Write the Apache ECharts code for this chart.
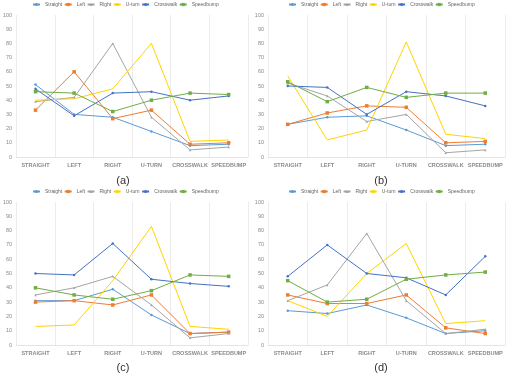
<!DOCTYPE html>
<html>
<head>
<meta charset="utf-8">
<script src="https://cdn.jsdelivr.net/npm/echarts@6/dist/echarts.min.js"></script>
<style>
  html, body { margin: 0; padding: 0; background: #fff; }
  #chart { width: 509px; height: 374px; }
</style>
</head>
<body>
<div id="chart"></div>
<script>
// x categories and series names (same in all four panels)
const categories = ['STRAIGHT', 'LEFT', 'RIGHT', 'U-TURN', 'CROSSWALK', 'SPEEDBUMP']
const seriesNames = ['Straight', 'Left', 'Right', 'U-turn', 'Crosswalk', 'Speedbump']
const yTicks = [0, 10, 20, 30, 40, 50, 60, 70, 80, 90, 100]
const captions = ['(a)', '(b)', '(c)', '(d)']

// values per panel, rows follow seriesNames order
const panelA = [
  [51, 30, 28, 18, 8, 9],
  [33, 60, 27, 33, 9, 10],
  [39, 42, 80, 28, 5, 7],
  [40, 41, 48, 80, 11, 12],
  [48, 29, 45, 46, 40, 43],
  [46, 45, 32, 40, 45, 44],
]
const panelB = [
  [23, 28, 29, 19, 8, 9],
  [23, 31, 36, 35, 10, 11],
  [52, 43, 25, 30, 3, 5],
  [57, 12, 19, 81, 16, 13],
  [50, 49, 30, 46, 43, 36],
  [53, 39, 49, 42, 45, 45],
]
const panelC = [
  [31, 31, 39, 21, 8, 9],
  [30, 31, 28, 35, 8, 9],
  [35, 40, 48, 28, 5, 8],
  [13, 14, 45, 83, 13, 11],
  [50, 49, 71, 46, 43, 41],
  [40, 35, 32, 38, 49, 48],
]
const panelD = [
  [24, 22, 28, 19, 8, 10],
  [35, 29, 29, 35, 12, 8],
  [31, 42, 78, 31, 8, 11],
  [31, 20, 50, 71, 15, 17],
  [48, 70, 50, 47, 35, 62],
  [45, 30, 32, 46, 49, 51],
]
const panels = [panelA, panelB, panelC, panelD]

const colors = ['#5B9BD5', '#ED7D31', '#A5A5A5', '#FFD400', '#4472C4', '#70AD47']
const symbols = ['circle', 'rect', 'triangle', 'none', 'circle', 'rect']
const font = 'Liberation Sans'

// panel boxes: left, top, width, height of the plot area
const boxes = [
  { left: 10, top: 15, width: 238, height: 142 },
  { left: 268, top: 15, width: 237, height: 142 },
  { left: 10, top: 202, width: 238, height: 143 },
  { left: 268, top: 202, width: 237, height: 143 },
]

const grid = boxes.map((b) => ({ left: b.left, top: b.top, width: b.width, height: b.height }))

const xAxis = boxes.map((b, i) => ({
  type: 'category',
  gridIndex: i,
  data: categories,
  axisTick: { show: false },
  axisLine: { lineStyle: { color: '#e4e4e4', width: 1 } },
  splitLine: { show: true, lineStyle: { color: '#ececec', width: 1 } },
  axisLabel: {
    color: '#8a8a8a',
    fontSize: 5.5,
    fontWeight: 'bold',
    fontFamily: font,
    margin: 5,
    interval: 0,
  },
}))

const yAxis = boxes.map((b, i) => ({
  type: 'value',
  gridIndex: i,
  min: yTicks[0],
  max: yTicks[yTicks.length - 1],
  interval: 10,
  axisLine: { show: false },
  axisTick: { show: false },
  splitLine: { show: false },
  axisLabel: { color: '#8a8a8a', fontSize: 5.5, fontFamily: font, margin: 4 },
}))

const legend = boxes.map((b, i) => ({
  data: seriesNames,
  left: i % 2 === 0 ? 32 : 288,
  top: i < 2 ? 2 : 189,
  itemWidth: 7,
  itemHeight: 4,
  itemGap: 1.5,
  padding: 0,
  selectedMode: false,
  textStyle: { color: '#666', fontSize: 5, fontFamily: font },
}))

const series = []
panels.forEach((rows, p) => {
  rows.forEach((vals, s) => {
    series.push({
      type: 'line',
      name: seriesNames[s],
      xAxisIndex: p,
      yAxisIndex: p,
      data: vals,
      symbol: symbols[s],
      symbolSize: s === 1 || s === 5 ? 3.5 : 2.5,
      showSymbol: true,
      lineStyle: { width: 1, color: colors[s] },
      itemStyle: { color: colors[s] },
      emphasis: { disabled: true },
    })
  })
})

const graphic = boxes.map((b, i) => ({
  type: 'text',
  x: i % 2 === 0 ? 123 : 381,
  y: i < 2 ? 181 : 368,
  style: {
    text: captions[i],
    fill: '#333',
    font: '11px ' + font,
    textAlign: 'center',
    textVerticalAlign: 'middle',
  },
}))

const option = {
  animation: false,
  backgroundColor: '#fff',
  color: colors,
  grid,
  xAxis,
  yAxis,
  legend,
  series,
  graphic,
}

const chart = echarts.init(document.getElementById('chart'))
chart.setOption(option)
window.onresize = function () {
  chart.resize()
}
</script>
</body>
</html>
